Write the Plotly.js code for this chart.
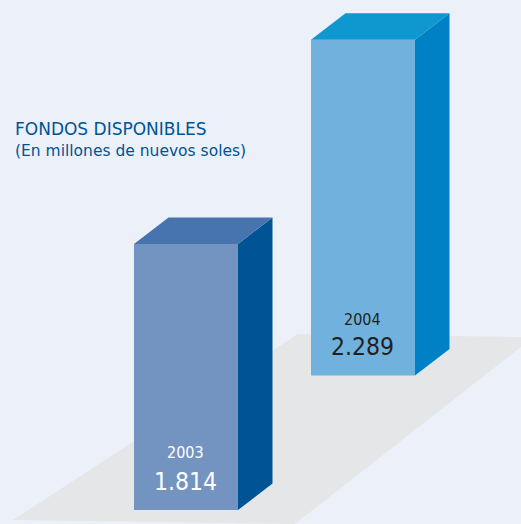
<!DOCTYPE html>
<html><head><meta charset="utf-8">
<script src="https://cdn.plot.ly/plotly-3.0.1.min.js"></script>
<style>html,body{margin:0;padding:0;background:#ecf1f9}</style>
</head><body><div id="c" style="width:521px;height:524px"></div>
<script>
const years = ["2003", "2004"];
const values = [1814, 2289];
const valueLabels = ["1.814", "2.289"];
const bases = [0, 917];
const centers = [186, 363];
const barWidth = 104;
const depthX = 34.5;
const depthUnits = 180;
const frontColors = ["#7393c1", "#70b1dd"];
const sideColors = ["#005496", "#0081c5"];
const topColors = ["#4774ae", "#0f97cf"];
const labelColors = ["#ffffff", "#231f20"];
const yearOffset = [393, 380];
const valueOffset = [194, 200];

const traces = [];
years.forEach((yr, i) => {
  const r = centers[i] + barWidth / 2, l = centers[i] - barWidth / 2;
  const b = bases[i], t = bases[i] + values[i];
  traces.push({type:"scatter", mode:"lines", fill:"toself", line:{width:0}, hoverinfo:"skip",
    fillcolor:sideColors[i], showlegend:false,
    x:[r, r + depthX, r + depthX, r, r], y:[b, b + depthUnits, t + depthUnits, t, b]});
  traces.push({type:"scatter", mode:"lines", fill:"toself", line:{width:0}, hoverinfo:"skip",
    fillcolor:topColors[i], showlegend:false,
    x:[l, r, r + depthX, l + depthX, l], y:[t, t, t + depthUnits, t + depthUnits, t]});
});
traces.push({type:"bar", x:centers, y:values, base:bases, width:barWidth,
  marker:{color:frontColors, line:{width:0}}, showlegend:false, hoverinfo:"skip"});

const annotations = [];
years.forEach((yr, i) => {
  annotations.push({x:centers[i] - 0.5, y:bases[i] + yearOffset[i], xref:"x", yref:"y", text:yr, showarrow:false,
    font:{family:"DejaVu Sans Condensed, DejaVu Sans", size:16, color:labelColors[i]}});
  annotations.push({x:centers[i] - 1, y:bases[i] + valueOffset[i], xref:"x", yref:"y", text:valueLabels[i], showarrow:false,
    font:{family:"DejaVu Sans Condensed, DejaVu Sans", size:24.5, color:labelColors[i]}});
});
annotations.push({x:13/521, y:1-129/524, xref:"paper", yref:"paper", xanchor:"left", yanchor:"middle",
  text:"FONDOS DISPONIBLES", showarrow:false, font:{family:"DejaVu Sans", size:17, color:"#005496"}});
annotations.push({x:13/521, y:1-151/524, xref:"paper", yref:"paper", xanchor:"left", yanchor:"middle",
  text:"(En millones de nuevos soles)", showarrow:false, font:{family:"DejaVu Sans", size:15.5, color:"#005496"}});

const floor = {type:"path", xref:"paper", yref:"paper", layer:"below", line:{width:0}, fillcolor:"#e5e6e8",
  path:"M "+13/521+" "+(1-520/524)+" L "+298/521+" "+(1-334/524)+" L 1 "+(1-337/524)+" L 1 "+(1-347/524)+" L "+295/521+" 0 L "+13/521+" "+(1-520/524)+" Z"};

Plotly.newPlot("c", traces, {
  width:521, height:524, margin:{l:0,r:0,t:0,b:0},
  paper_bgcolor:"#ecf1f9", plot_bgcolor:"rgba(0,0,0,0)", showlegend:false,
  xaxis:{range:[0,521], visible:false, fixedrange:true},
  yaxis:{range:[-14/0.1467, 510/0.1467], visible:false, fixedrange:true},
  shapes:[floor], annotations
}, {displayModeBar:false, staticPlot:true});
</script></body></html>
